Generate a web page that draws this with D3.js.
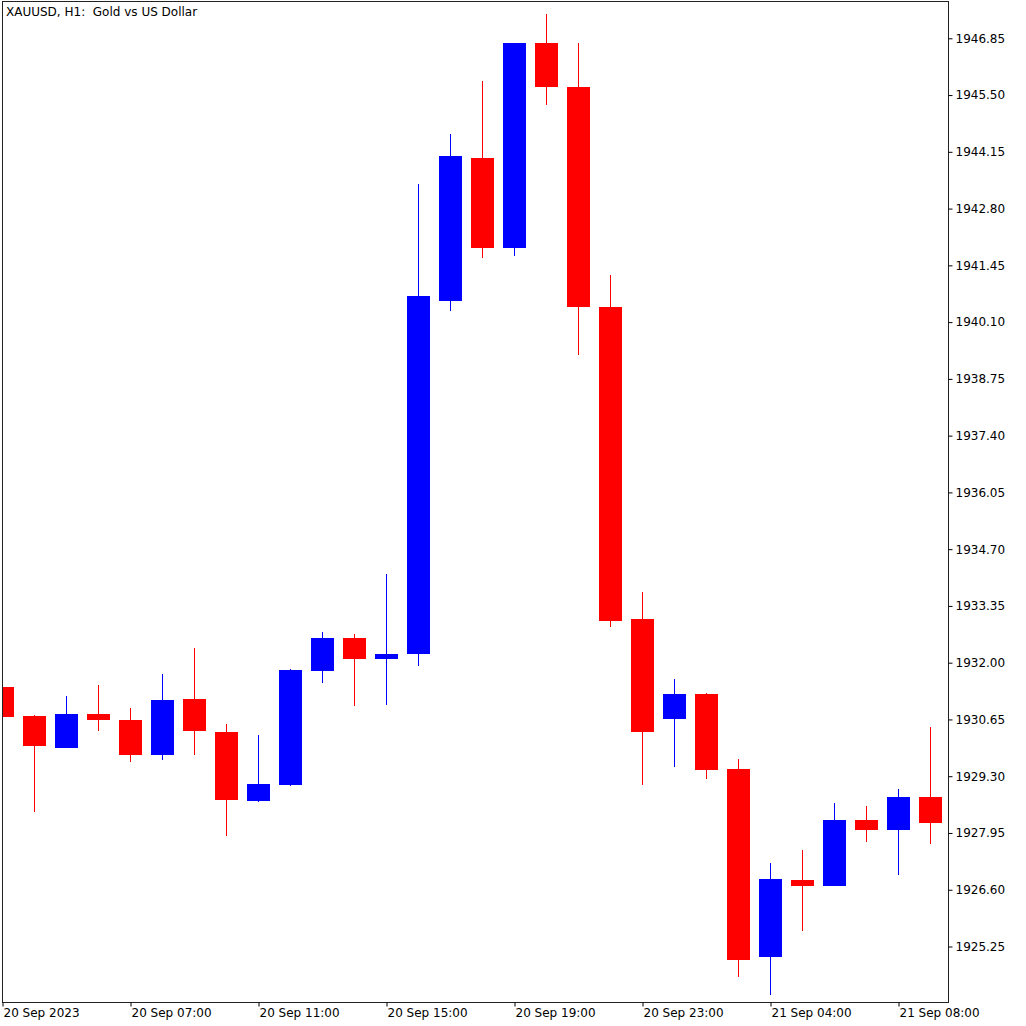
<!DOCTYPE html>
<html>
<head>
<meta charset="utf-8">
<script src="https://cdn.jsdelivr.net/npm/d3@7"></script>
<style>
  html, body { margin: 0; padding: 0; background: #fff; }
  svg { display: block; }
  text { font-family: "DejaVu Sans", sans-serif; font-size: 12px; fill: #000; }
</style>
</head>
<body>
<svg id="chart" width="1026" height="1026"></svg>
<script>
// ---- data (XAUUSD H1) ----
const times  = ["20 Sep 03:00","20 Sep 04:00","20 Sep 05:00","20 Sep 06:00","20 Sep 07:00","20 Sep 08:00","20 Sep 09:00","20 Sep 10:00","20 Sep 11:00","20 Sep 12:00",
                "20 Sep 13:00","20 Sep 14:00","20 Sep 15:00","20 Sep 16:00","20 Sep 17:00","20 Sep 18:00","20 Sep 19:00","20 Sep 20:00","20 Sep 21:00","20 Sep 22:00",
                "20 Sep 23:00","21 Sep 01:00","21 Sep 02:00","21 Sep 03:00","21 Sep 04:00","21 Sep 05:00","21 Sep 06:00","21 Sep 07:00","21 Sep 08:00","21 Sep 09:00"];
const opens  = [1931.43,1930.73,1929.98,1930.79,1930.64,1929.81,1931.14,1930.36,1928.72,1929.09,
                1931.81,1932.58,1932.09,1932.20,1940.60,1944.00,1941.86,1946.75,1945.68,1940.45,
                1933.04,1930.67,1931.26,1929.47,1925.00,1926.84,1926.70,1928.27,1928.02,1928.80];
const highs  = [1931.55,1930.76,1931.20,1931.47,1930.93,1931.74,1932.36,1930.54,1930.29,1931.86,
                1932.72,1932.69,1934.10,1943.39,1944.57,1945.84,1946.73,1947.43,1946.73,1941.22,
                1933.68,1931.62,1931.27,1929.71,1927.24,1927.55,1928.66,1928.60,1929.00,1930.46];
const lows   = [1930.60,1928.44,1929.97,1930.38,1929.63,1929.69,1929.81,1927.87,1928.68,1929.07,
                1931.51,1930.96,1930.99,1931.93,1940.37,1941.62,1941.67,1945.27,1939.32,1932.85,
                1929.10,1929.53,1929.24,1924.52,1924.09,1925.63,1926.69,1927.74,1926.94,1927.69];
const closes = [1930.71,1930.02,1930.79,1930.64,1929.81,1931.12,1930.38,1928.74,1929.12,1931.83,
                1932.59,1932.09,1932.21,1940.71,1944.05,1941.86,1946.73,1945.68,1940.45,1932.98,
                1930.34,1931.26,1929.45,1924.93,1926.86,1926.70,1928.27,1928.02,1928.80,1928.19];
const priceTicks = ["1946.85","1945.50","1944.15","1942.80","1941.45","1940.10","1938.75","1937.40","1936.05",
                    "1934.70","1933.35","1932.00","1930.65","1929.30","1927.95","1926.60","1925.25"];
const timeTickIdx    = [0, 4, 8, 12, 16, 20, 24, 28];
const timeTickLabels = ["20 Sep 2023","20 Sep 07:00","20 Sep 11:00","20 Sep 15:00","20 Sep 19:00","20 Sep 23:00","21 Sep 04:00","21 Sep 08:00"];
const title = "XAUUSD, H1:  Gold vs US Dollar";

// ---- layout ----
const L = 2.5, T = 1.5, R = 948.5, B = 1002.5;
const bodyW = 23;
const bull = "#0000FF", bear = "#FF0000";

const svg = d3.select("#chart");
svg.append("rect").attr("width", 1026).attr("height", 1026).attr("fill", "#fff");

const x = d3.scaleLinear().domain([0, times.length - 1]).range([2.5, 930.5]);
const y = d3.scaleLinear().domain([1925.25, 1946.85]).range([946.5, 38.3]);

const candles = times.map((t, i) => ({ i, t, o: opens[i], h: highs[i], l: lows[i], c: closes[i] }));

svg.append("defs").append("clipPath").attr("id", "plot")
  .append("rect").attr("x", L).attr("y", T).attr("width", R - L).attr("height", B - T);

const g = svg.append("g").attr("clip-path", "url(#plot)");

// wicks
g.selectAll("line.wick").data(candles).join("line")
  .attr("class", "wick")
  .attr("x1", d => x(d.i)).attr("x2", d => x(d.i))
  .attr("y1", d => Math.round(y(d.h))).attr("y2", d => Math.round(y(d.l)))
  .attr("stroke", d => d.c >= d.o ? bull : bear)
  .attr("stroke-width", 1);

// bodies
g.selectAll("rect.body").data(candles).join("rect")
  .attr("class", "body")
  .attr("x", d => x(d.i) - bodyW / 2)
  .attr("width", bodyW)
  .attr("y", d => Math.round(y(Math.max(d.o, d.c))))
  .attr("height", d => Math.max(1, Math.round(y(Math.min(d.o, d.c))) - Math.round(y(Math.max(d.o, d.c)))))
  .attr("fill", d => d.c >= d.o ? bull : bear);

// frame
svg.append("rect").attr("x", L).attr("y", T).attr("width", R - L).attr("height", B - T)
  .attr("fill", "none").attr("stroke", "#222").attr("stroke-width", 1);

// price axis (right)
const yAxis = d3.axisRight(y)
  .tickValues(priceTicks.map(Number))
  .tickFormat((v, i) => priceTicks[i])
  .tickSize(4).tickPadding(3);
const ya = svg.append("g").attr("transform", `translate(${R},0)`).call(yAxis);
ya.select(".domain").remove();
ya.selectAll(".tick line").attr("stroke", "#000");
ya.selectAll(".tick text").style("font-family", "'DejaVu Sans', sans-serif").style("font-size", "12px").attr("fill", "#000");

// time axis (bottom)
const xAxis = d3.axisBottom(x)
  .tickValues(timeTickIdx)
  .tickFormat((v, i) => timeTickLabels[i])
  .tickSize(4).tickPadding(2);
const xa = svg.append("g").attr("transform", `translate(0,${B})`).call(xAxis);
xa.select(".domain").remove();
xa.selectAll(".tick line").attr("stroke", "#000");
xa.selectAll(".tick text").attr("text-anchor", "start").attr("dx", 0.5)
  .style("font-family", "'DejaVu Sans', sans-serif").style("font-size", "12px").attr("fill", "#000");

// title
svg.append("text").attr("x", 6).attr("y", 16).attr("xml:space", "preserve").style("white-space", "pre")
  .text(title);
</script>
</body>
</html>
